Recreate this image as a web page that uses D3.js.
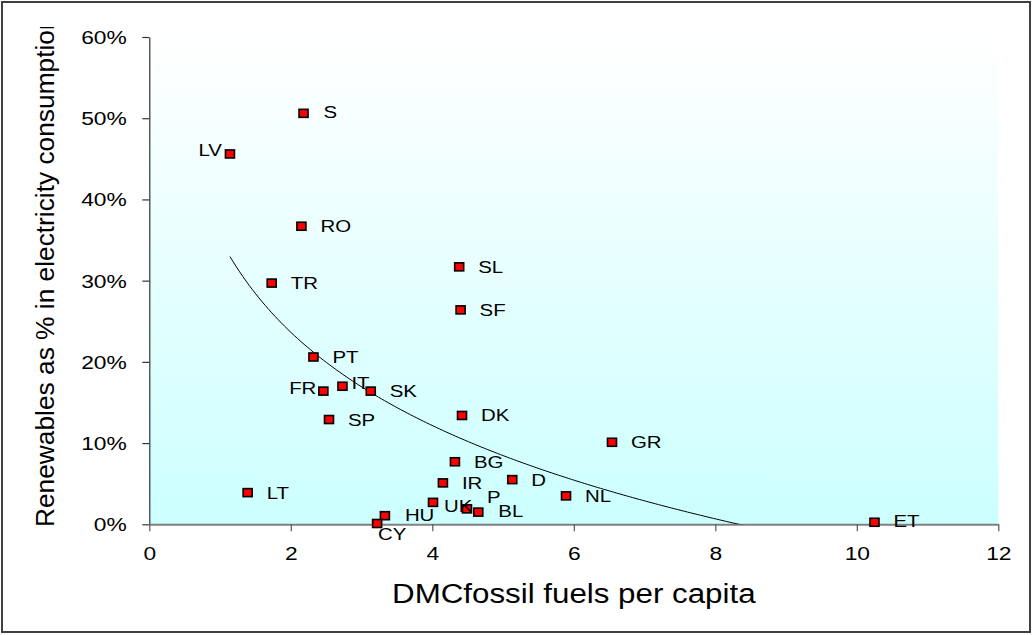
<!DOCTYPE html>
<html>
<head>
<meta charset="utf-8">
<script src="https://cdn.jsdelivr.net/npm/d3@7"></script>
<style>
  html, body { margin: 0; padding: 0; background: #ffffff; }
  svg { display: block; }
  text { font-family: "Liberation Sans", Arial, sans-serif; fill: #000; }
</style>
</head>
<body>
<svg id="chart" width="1033" height="635"></svg>
<script>
// ---- data ----
const countries = ["S","LV","RO","TR","SL","SF","PT","FR","IT","SK","SP","DK","GR","BG","IR","D","NL","LT","UK","P","BL","HU","CY","ET"];
const dmcFossil = [2.18,1.14,2.15,1.73,4.38,4.40,2.32,2.46,2.73,3.13,2.54,4.42,6.54,4.32,4.15,5.13,5.89,1.39,4.01,4.49,4.65,3.33,3.22,10.25];
const renewShare = [0.506,0.456,0.367,0.297,0.317,0.264,0.206,0.164,0.170,0.164,0.129,0.134,0.101,0.077,0.051,0.055,0.035,0.039,0.027,0.019,0.015,0.0106,0.001,0.0025];
const xTicks = [0,2,4,6,8,10,12];
const yTicks = [0,0.1,0.2,0.3,0.4,0.5,0.6];
const xTitle = "DMCfossil fuels per capita";
const yTitle = "Renewables as % in electricity consumption";

// ---- label placement (layout only) ----
const labelPlace = {
  LV: {anchor:"end", dx:-8, dy:-4},
  FR: {anchor:"end", dx:-7, dy:-3},
  IT: {anchor:"start", dx:9, dy:-3},
  UK: {anchor:"start", dx:11, dy:4},
  P:  {anchor:"start", dx:20, dy:-12},
  CY: {anchor:"start", dx:1, dy:11},
  S:  {anchor:"start", dx:20, dy:-1},
  HU: {anchor:"start", dx:20, dy:-1},
  BL: {anchor:"start", dx:20, dy:-1},
  ET: {anchor:"start", dx:19, dy:-1}
};
const defaultPlace = {anchor:"start", dx:19, dy:0};

const svg = d3.select("#chart");
const L = 149.3, R = 998.3, T = 37, B = 524.3;
const x = d3.scaleLinear().domain([0,12]).range([L,R]);
const y = d3.scaleLinear().domain([0,0.6]).range([B,T]);

const defs = svg.append("defs");
const grad = defs.append("linearGradient").attr("id","bg").attr("x1",0).attr("y1",0).attr("x2",0).attr("y2",1);
grad.append("stop").attr("offset","0%").attr("stop-color","#ffffff");
grad.append("stop").attr("offset","100%").attr("stop-color","#ccffff");
defs.append("clipPath").attr("id","plotClip").append("rect")
  .attr("x",L).attr("y",T).attr("width",R-L).attr("height",B-T);
defs.append("clipPath").attr("id","titleClip").append("rect")
  .attr("x",0).attr("y",27).attr("width",200).attr("height",600);

// outer frame
svg.append("rect").attr("x",2).attr("y",2).attr("width",1028).attr("height",630)
  .attr("fill","#ffffff").attr("stroke","#404040").attr("stroke-width",2);

// plot area
svg.append("rect").attr("x",L).attr("y",T).attr("width",R-L).attr("height",B-T).attr("fill","url(#bg)");

const SX = 1.2;
function stretchText(sel, px, py, sx) {
  sel.attr("x",0).attr("y",0).attr("transform",`translate(${px},${py}) scale(${sx},1)`);
}

// y axis
const yAxis = svg.append("g").attr("transform",`translate(${L},0)`)
  .call(d3.axisLeft(y).tickValues(yTicks).tickFormat(d3.format(".0%")).tickSize(7).tickSizeOuter(0));
yAxis.select(".domain").attr("stroke","#333").attr("stroke-width",1.2);
yAxis.selectAll(".tick line").attr("stroke","#333").attr("stroke-width",1.2);
yAxis.selectAll(".tick text").each(function(){
  d3.select(this).attr("dy",null).attr("font-size",19).attr("text-anchor","end");
  stretchText(d3.select(this), -22.5, 6.5, SX);
});

// x axis
const xAxis = svg.append("g").attr("transform",`translate(0,${B})`)
  .call(d3.axisBottom(x).tickValues(xTicks).tickFormat(d3.format("d")).tickSize(7).tickSizeOuter(0));
xAxis.select(".domain").attr("stroke","#808080").attr("stroke-width",2);
xAxis.selectAll(".tick line").attr("stroke","#555").attr("stroke-width",1.2);
xAxis.selectAll(".tick text").each(function(){
  d3.select(this).attr("dy",null).attr("font-size",19).attr("text-anchor","middle");
  stretchText(d3.select(this), 0, 36, SX);
});

// logarithmic trend line fitted to the data (as the original spreadsheet did)
const lx = dmcFossil.map(Math.log);
const mL = d3.mean(lx), mY = d3.mean(renewShare);
const sxy = d3.sum(lx, (v,i) => (v-mL)*(renewShare[i]-mY));
const sxx = d3.sum(lx, v => (v-mL)*(v-mL));
const slope = sxy/sxx, icpt = mY - slope*mL;
const xmin = d3.min(dmcFossil), xmax = d3.max(dmcFossil);
const trendPts = d3.range(0,201).map(k => {
  const xv = xmin + (xmax-xmin)*k/200;
  return [xv, slope*Math.log(xv)+icpt];
});
svg.append("path").attr("clip-path","url(#plotClip)")
  .attr("d", d3.line().x(d=>x(d[0])).y(d=>y(d[1]))(trendPts))
  .attr("fill","none").attr("stroke","#000").attr("stroke-width",1);

// markers
const data = countries.map((c,i)=>({name:c, xv:dmcFossil[i], yv:renewShare[i]}));
svg.append("g").selectAll("rect").data(data).join("rect")
  .attr("x", d => x(d.xv)-4.5).attr("y", d => y(d.yv)-4)
  .attr("width",9).attr("height",8)
  .attr("fill","#ff0000").attr("stroke","#000").attr("stroke-width",1.6);

// point labels
svg.append("g").selectAll("text").data(data).join("text")
  .attr("font-size",17)
  .attr("text-anchor", d => (labelPlace[d.name]||defaultPlace).anchor)
  .text(d => d.name)
  .each(function(d){
    const p = labelPlace[d.name]||defaultPlace;
    stretchText(d3.select(this), x(d.xv)+p.dx, y(d.yv)+p.dy+6, SX);
  });

// axis titles
const xt = svg.append("text").attr("font-size",27).attr("text-anchor","middle").text(xTitle);
stretchText(xt, (L+R)/2, 603, 1.16);

svg.append("g").attr("clip-path","url(#titleClip)")
  .append("text").attr("font-size",26.3).attr("text-anchor","start")
  .attr("transform","translate(54,527) rotate(-90)")
  .text(yTitle);
</script>
</body>
</html>
